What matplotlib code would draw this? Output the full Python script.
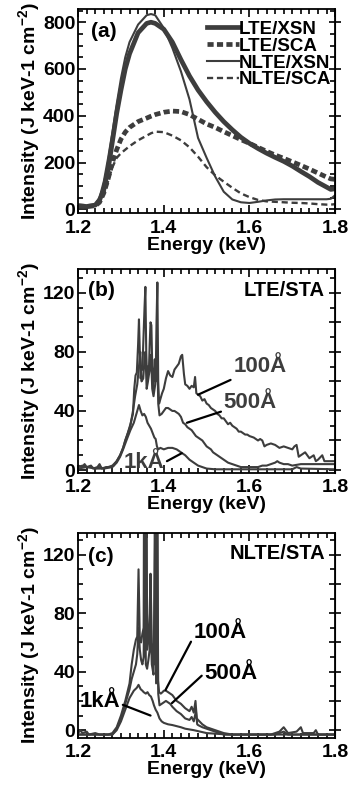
import matplotlib
matplotlib.use("Agg")
import matplotlib.pyplot as plt
from matplotlib.ticker import MultipleLocator

plt.rcParams['font.family'] = ['Liberation Sans', 'DejaVu Sans']
plt.rcParams['font.weight'] = 'bold'
plt.rcParams['mathtext.fontset'] = 'custom'
plt.rcParams['mathtext.rm'] = 'Liberation Sans:bold'
plt.rcParams['mathtext.default'] = 'rm'

# ---- panel (a): LTE / NLTE, XSN / SCA ----
e_a = [1.20, 1.22, 1.24, 1.25, 1.26, 1.27, 1.28, 1.29, 1.30, 1.31, 1.32, 1.34, 1.36, 1.37,
       1.38, 1.40, 1.42, 1.44, 1.46, 1.48, 1.50, 1.52, 1.54, 1.56, 1.58, 1.60, 1.62, 1.64,
       1.66, 1.68, 1.70, 1.72, 1.74, 1.76, 1.78, 1.79, 1.80]
lte_xsn = [15, 12, 18, 40, 85, 170, 290, 410, 510, 600, 665, 755, 795, 800,
           795, 770, 715, 640, 570, 510, 460, 415, 375, 340, 308, 282, 260, 240,
           222, 205, 185, 162, 140, 115, 95, 85, 88]
lte_sca = [15, 12, 15, 30, 70, 130, 200, 255, 300, 330, 350, 375, 390, 398,
           405, 415, 420, 418, 405, 385, 365, 350, 332, 315, 298, 282, 265, 248,
           232, 218, 203, 188, 172, 155, 138, 130, 128]
nlte_xsn = [12, 10, 20, 50, 120, 220, 330, 450, 560, 650, 715, 790, 830, 835,
            830, 775, 690, 590, 470, 305, 220, 140, 75, 42, 30, 27, 32, 38,
            42, 43, 43, 43, 43, 43, 43, 45, 60]
nlte_sca = [15, 12, 15, 30, 65, 120, 180, 220, 240, 255, 270, 295, 315, 325,
            332, 330, 315, 295, 265, 225, 180, 145, 118, 92, 68, 52, 40, 34,
            32, 30, 28, 27, 25, 22, 20, 20, 22]

# ---- panel (b): LTE/STA ----
e_b100 = [1.200, 1.210, 1.215, 1.220, 1.230, 1.235, 1.245, 1.250, 1.255, 1.265, 1.275, 1.283,
          1.290, 1.298, 1.305, 1.310, 1.316, 1.322, 1.328, 1.331, 1.334, 1.337, 1.340, 1.342,
          1.344, 1.346, 1.348, 1.350, 1.352, 1.355, 1.357, 1.359, 1.361, 1.363, 1.365, 1.367,
          1.369, 1.371, 1.373, 1.375, 1.377, 1.379, 1.381, 1.383, 1.385, 1.387, 1.389, 1.392,
          1.396, 1.400, 1.405, 1.410, 1.415, 1.420, 1.425, 1.430, 1.435, 1.440, 1.443, 1.447,
          1.450, 1.455, 1.460, 1.465, 1.470, 1.473, 1.476, 1.480, 1.485, 1.490, 1.495, 1.500,
          1.505, 1.510, 1.515, 1.520, 1.525, 1.530, 1.535, 1.540, 1.545, 1.550, 1.555, 1.560,
          1.565, 1.570, 1.575, 1.580, 1.585, 1.590, 1.595, 1.600, 1.610, 1.620, 1.625, 1.630,
          1.635, 1.640, 1.650, 1.660, 1.665, 1.670, 1.680, 1.690, 1.700, 1.705, 1.710, 1.715,
          1.720, 1.730, 1.740, 1.745, 1.750, 1.755, 1.760, 1.770, 1.775, 1.780, 1.790, 1.800]
i_b100 = [3, 2, 4, 2, 3, 1, 2, 4, 1, 2, 2, 3,
          6, 10, 15, 20, 25, 31, 38, 55, 64, 66, 85, 102,
          80, 62, 70, 68, 85, 110, 124, 80, 62, 70, 65, 85,
          100, 98, 70, 55, 62, 75, 60, 100, 127, 60, 45, 48,
          52, 55, 62, 67, 64, 63, 68, 70, 72, 77, 78, 65,
          58, 57, 55, 57, 56, 63, 52, 51, 50, 47, 48, 45,
          44, 42, 41, 40, 38, 37, 35, 35, 33, 31, 32, 30,
          29, 28, 26, 26, 25, 24, 24, 23, 22, 20, 21, 20,
          16, 17, 18, 17, 16, 15, 16, 15, 14, 16, 17, 9,
          10, 12, 8, 9, 10, 6, 7, 10, 6, 6, 6, 6]

e_b500 = [1.200, 1.210, 1.220, 1.230, 1.240, 1.250, 1.260, 1.270, 1.280, 1.290, 1.298, 1.305,
          1.310, 1.316, 1.322, 1.328, 1.333, 1.338, 1.342, 1.345, 1.348, 1.352, 1.355, 1.357,
          1.360, 1.363, 1.367, 1.370, 1.373, 1.376, 1.380, 1.383, 1.385, 1.387, 1.390, 1.395,
          1.400, 1.405, 1.410, 1.415, 1.420, 1.425, 1.430, 1.435, 1.440, 1.445, 1.450, 1.455,
          1.460, 1.465, 1.470, 1.475, 1.480, 1.485, 1.490, 1.495, 1.500, 1.505, 1.510, 1.515,
          1.520, 1.525, 1.530, 1.540, 1.550, 1.560, 1.570, 1.580, 1.600, 1.620, 1.630, 1.640,
          1.650, 1.660, 1.665, 1.670, 1.680, 1.690, 1.700, 1.720, 1.740, 1.760, 1.780, 1.800]
i_b500 = [2, 3, 2, 2, 1, 2, 1, 2, 3, 6, 10, 15,
          20, 25, 30, 40, 50, 58, 70, 80, 60, 62, 75, 80,
          55, 60, 68, 78, 55, 50, 58, 70, 75, 45, 37, 38,
          40, 42, 42, 41, 40, 40, 39, 38, 36, 32, 31, 29,
          28, 27, 25, 23, 22, 21, 20, 18, 16, 15, 14, 12,
          11, 10, 9, 7, 5, 4, 3, 2, 2, 2, 3, 3,
          4, 5, 6, 5, 4, 4, 3, 4, 4, 4, 4, 4]

e_b1k = [1.200, 1.220, 1.240, 1.260, 1.280, 1.290, 1.298, 1.305, 1.314, 1.322, 1.330, 1.336,
         1.342, 1.346, 1.350, 1.354, 1.358, 1.362, 1.366, 1.370, 1.374, 1.378, 1.381, 1.384,
         1.387, 1.392, 1.400, 1.410, 1.420, 1.430, 1.440, 1.450, 1.460, 1.470, 1.480, 1.490,
         1.500, 1.520, 1.600, 1.700, 1.710, 1.720, 1.800]
i_b1k = [1, 2, 1, 1, 2, 5, 9, 14, 21, 27, 32, 38,
         44, 40, 37, 38, 36, 32, 30, 28, 25, 22, 21, 16,
         14, 15, 14, 15, 15, 14, 12, 10, 7, 5, 3, 2,
         1, 0.5, 0.5, 0.5, 2, 1, 0.5]

# ---- panel (c): NLTE/STA ----
e_c100 = [1.200, 1.205, 1.210, 1.220, 1.225, 1.240, 1.250, 1.270, 1.280, 1.290, 1.300, 1.310,
          1.320, 1.325, 1.330, 1.335, 1.338, 1.341, 1.344, 1.347, 1.350, 1.353, 1.355, 1.357,
          1.359, 1.361, 1.364, 1.367, 1.369, 1.372, 1.375, 1.378, 1.380, 1.382, 1.384, 1.386,
          1.389, 1.393, 1.397, 1.400, 1.405, 1.410, 1.415, 1.420, 1.430, 1.440, 1.450, 1.460,
          1.465, 1.470, 1.474, 1.477, 1.480, 1.490, 1.500, 1.510, 1.520, 1.540, 1.560, 1.600,
          1.650, 1.670, 1.680, 1.690, 1.710, 1.720, 1.725, 1.750, 1.755, 1.760, 1.800]
i_c100 = [-2, 0, -2, -1, -3, -2, -3, -3, -2, 2, 10, 20,
          32, 45, 55, 62, 64, 110, 62, 60, 66, 70, 300, 60,
          300, 55, 62, 80, 107, 60, 50, 45, 300, 40, 300, 35,
          26, 25, 26, 27, 27, 26, 25, 24, 20, 18, 15, 13,
          16, 12, 20, 8, 7, 4, 2, 1, 0, -2, -3, -3,
          -3, -1, 2, -2, -1, 2, -2, -2, 0, -3, -3]

e_c500 = [1.200, 1.220, 1.240, 1.260, 1.280, 1.290, 1.300, 1.310, 1.320, 1.325, 1.330, 1.335,
          1.338, 1.341, 1.344, 1.347, 1.350, 1.353, 1.356, 1.358, 1.361, 1.364, 1.367, 1.369,
          1.372, 1.376, 1.380, 1.382, 1.385, 1.387, 1.390, 1.395, 1.400, 1.405, 1.410, 1.415,
          1.420, 1.430, 1.440, 1.450, 1.460, 1.465, 1.470, 1.475, 1.478, 1.480, 1.490, 1.500,
          1.520, 1.540, 1.600, 1.660, 1.680, 1.690, 1.800]
i_c500 = [-3, -3, -3, -3, -3, 1, 8, 18, 28, 35, 40, 45,
          52, 70, 55, 48, 45, 50, 140, 45, 42, 48, 55, 75,
          45, 38, 140, 32, 140, 25, 17, 18, 19, 20, 19, 18,
          16, 13, 11, 8, 7, 9, 6, 13, 4, 3.5, 2, 1,
          -1, -3, -3, -3, -1, -3, -3]

e_c1k = [1.200, 1.250, 1.280, 1.290, 1.300, 1.310, 1.320, 1.330, 1.337, 1.341, 1.346, 1.350,
         1.353, 1.358, 1.362, 1.366, 1.370, 1.374, 1.377, 1.381, 1.385, 1.390, 1.395, 1.400,
         1.410, 1.420, 1.440, 1.450, 1.470, 1.500, 1.550, 1.800]
i_c1k = [-3, -3, -3, 0, 6, 14, 22, 27, 29, 31, 28, 27,
         26, 25, 26, 24, 23, 20, 17, 14, 12, 8, 6, 5,
         4, 3.5, 2, 1, 0, -2, -3, -3]

col = '#3d3d3d'
fs_tick = 14
fs_lab = 14

fig = plt.figure(figsize=(3.52, 7.87), dpi=100)
L, W = 0.222, 0.730
ax_a = fig.add_axes([L, 0.729, W, 0.260])
ax_b = fig.add_axes([L, 0.399, W, 0.259])
ax_c = fig.add_axes([L, 0.062, W, 0.261])


def style(ax, ymaj, ymin, rmaj):
    ax.set_xlim(1.2, 1.8)
    ax.xaxis.set_major_locator(MultipleLocator(0.2))
    ax.xaxis.set_minor_locator(MultipleLocator(0.02))
    ax.yaxis.set_major_locator(MultipleLocator(ymaj))
    ax.yaxis.set_minor_locator(MultipleLocator(ymin))
    ax.tick_params(which='both', direction='in', top=True, right=False,
                   labelsize=fs_tick, width=1.2, pad=2)
    ax.tick_params(axis='x', which='major', pad=4.5)
    ax.tick_params(which='major', length=6)
    ax.tick_params(which='minor', length=3.5)
    for s in ax.spines.values():
        s.set_linewidth(1.3)
    sec = ax.secondary_yaxis('right')
    sec.yaxis.set_major_locator(MultipleLocator(rmaj))
    sec.yaxis.set_minor_locator(MultipleLocator(ymin))
    sec.tick_params(which='major', direction='inout', length=8, width=1.2, labelright=False)
    sec.tick_params(which='minor', direction='in', length=3.5, width=1.2)
    ax.set_xlabel('Energy (keV)', fontsize=fs_lab, fontweight='bold', labelpad=0)
    ax.set_ylabel(r'Intensity (J keV-1 cm$^{-2}$)', fontsize=fs_lab, fontweight='bold',
                  labelpad=1)
    fig.canvas.draw()
    for lab in ax.get_xticklabels() + ax.get_yticklabels():
        lab.set_fontweight('bold')


# panel (a)
ax_a.plot(e_a, lte_xsn, color=col, lw=3.4, label='LTE/XSN')
ax_a.plot(e_a, lte_sca, color=col, lw=3.4, ls=(0, (1.3, 0.7)), label='LTE/SCA')
ax_a.plot(e_a, nlte_xsn, color=col, lw=1.5, label='NLTE/XSN')
ax_a.plot(e_a, nlte_sca, color=col, lw=1.7, ls=(0, (2.6, 1.6)), label='NLTE/SCA')
ax_a.set_ylim(-17, 858)
style(ax_a, 200, 50, 200)
ax_a.legend(loc='upper right', bbox_to_anchor=(0.985, 0.94), frameon=False,
            prop=dict(size=13.5, weight='bold'), handlelength=1.7,
            handletextpad=0.0, labelspacing=-0.02, borderaxespad=0.0, borderpad=0.0)
ax_a.text(0.05, 0.935, '(a)', transform=ax_a.transAxes, fontsize=15, va='top')

# panel (b)
ax_b.plot(e_b100, i_b100, color=col, lw=1.5)
ax_b.plot(e_b500, i_b500, color=col, lw=1.5)
ax_b.plot(e_b1k, i_b1k, color=col, lw=1.5)
ax_b.set_ylim(-2, 136)
style(ax_b, 40, 10, 20)
ax_b.text(0.04, 0.94, '(b)', transform=ax_b.transAxes, fontsize=15, va='top')
ax_b.text(0.96, 0.94, 'LTE/STA', transform=ax_b.transAxes, fontsize=14.5, va='top', ha='right')
arw = dict(arrowstyle='-', color='black', lw=1.6, shrinkA=0, shrinkB=0)
ax_b.annotate('100Å', xy=(1.48, 51), xytext=(1.562, 70), fontsize=16, va='center',
              arrowprops=arw, color=col)
ax_b.annotate('500Å', xy=(1.454, 32), xytext=(1.54, 46), fontsize=16, va='center',
              arrowprops=arw, color=col)
ax_b.annotate('1kÅ', xy=(1.442, 11.4), xytext=(1.306, 5), fontsize=16, va='center',
              arrowprops=dict(arw, relpos=(1, 0.5)), color=col)

# panel (c)
ax_c.plot(e_c100, i_c100, color=col, lw=1.5)
ax_c.plot(e_c500, i_c500, color=col, lw=1.5)
ax_c.plot(e_c1k, i_c1k, color=col, lw=1.5)
ax_c.set_ylim(-5.5, 135)
style(ax_c, 40, 10, 20)
ax_c.text(0.04, 0.93, '(c)', transform=ax_c.transAxes, fontsize=15, va='top')
ax_c.text(0.96, 0.945, 'NLTE/STA', transform=ax_c.transAxes, fontsize=14.5, va='top', ha='right')
ax_c.annotate('100Å', xy=(1.404, 27.5), xytext=(1.47, 67), fontsize=16, va='center',
              arrowprops=dict(arw, relpos=(0, 0.3)), color='black')
ax_c.annotate('500Å', xy=(1.419, 18.5), xytext=(1.495, 39), fontsize=16, va='center',
              arrowprops=dict(arw, relpos=(0, 0.5)), color='black')
ax_c.annotate('1kÅ', xy=(1.369, 10), xytext=(1.203, 19.5), fontsize=16, va='center',
              arrowprops=dict(arw, relpos=(1, 0.4)), color='black')

fig.savefig('out.png', dpi=100)
